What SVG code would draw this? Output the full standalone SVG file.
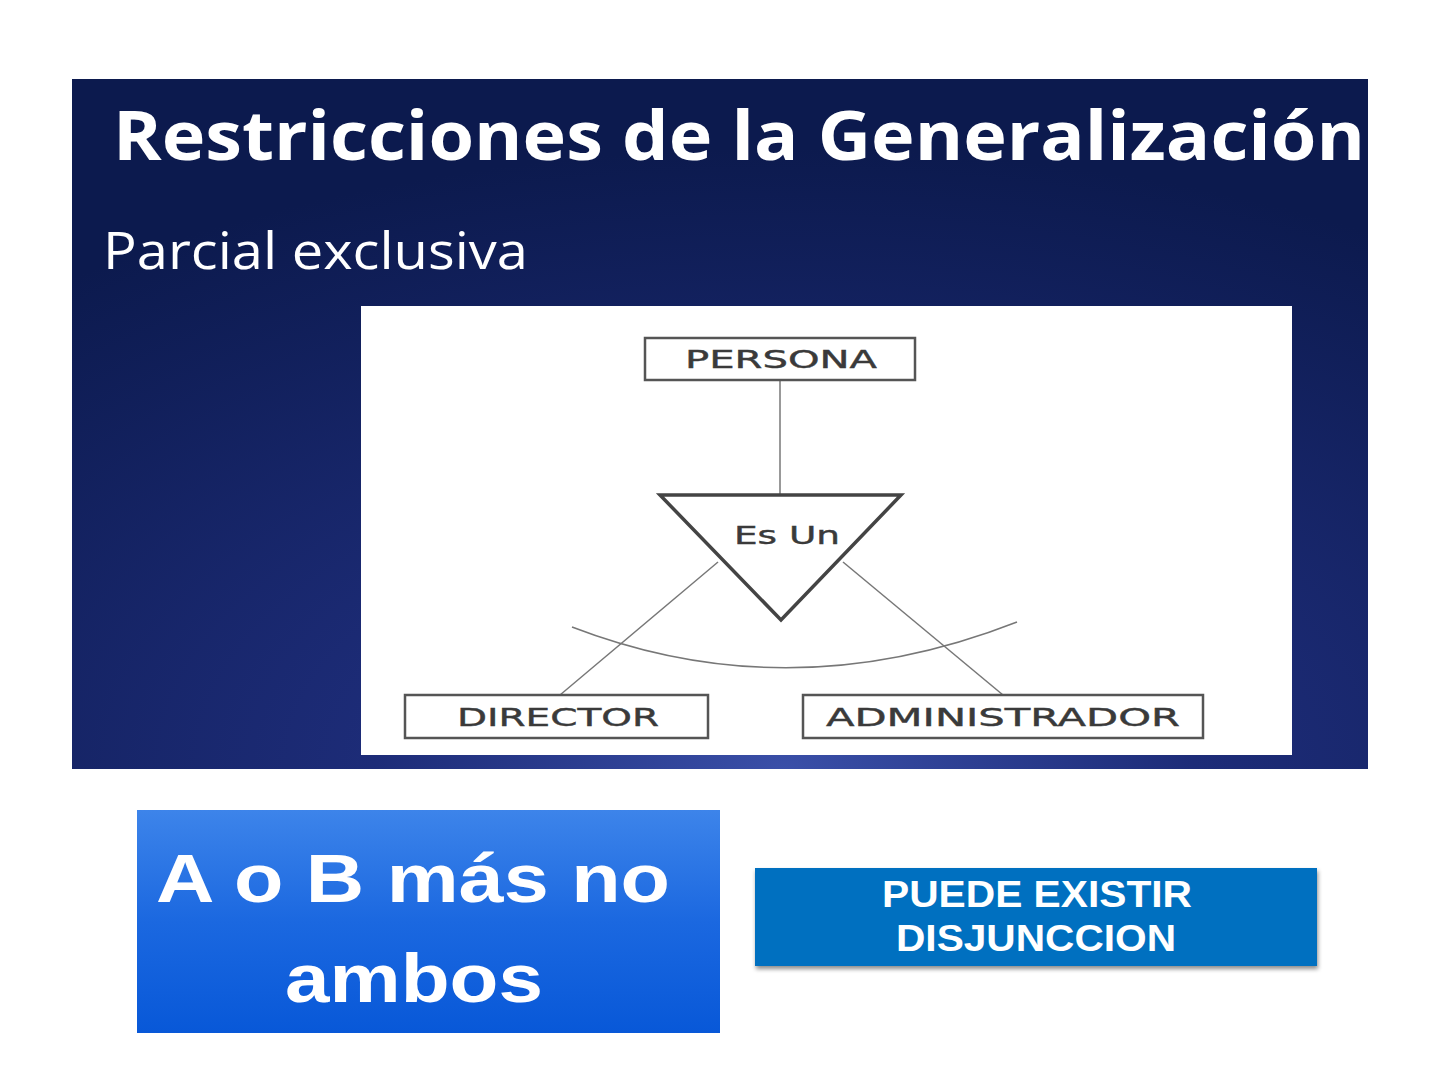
<svg xmlns="http://www.w3.org/2000/svg" width="1440" height="1080" viewBox="0 0 1440 1080">
<defs>
<radialGradient id="bg" cx="0.55" cy="1.0" r="0.9">
<stop offset="0" stop-color="#3a4fa8"/>
<stop offset="0.35" stop-color="#1d2c78"/>
<stop offset="1" stop-color="#0c1a4e"/>
</radialGradient>
<linearGradient id="blue1" x1="0" y1="0" x2="0" y2="1">
<stop offset="0" stop-color="#3d84ea"/>
<stop offset="0.5" stop-color="#1b68e0"/>
<stop offset="1" stop-color="#0858d8"/>
</linearGradient>
<filter id="sh" x="-5%" y="-10%" width="110%" height="130%">
<feDropShadow dx="1" dy="3" stdDeviation="2" flood-color="#000" flood-opacity="0.45"/>
</filter>
<style>
.box{fill:#fff;stroke:#555;stroke-width:2.5}
.lbl{font-family:"DejaVu Sans",Lato,sans-serif;font-size:24px;fill:#3a3a3a;stroke:#3a3a3a;stroke-width:0.4;text-anchor:middle}
.conn{stroke:#777;stroke-width:1.5;fill:none}
</style>
</defs>
<rect width="1440" height="1080" fill="#fff"/>
<g id="slide">
<rect x="72" y="79" width="1296" height="690" fill="url(#bg)"/>
<text x="113" y="160" font-family="'Open Sans',sans-serif" font-weight="bold" font-size="68" fill="#fff" textLength="1252" lengthAdjust="spacingAndGlyphs">Restricciones de la Generalización</text>
<text x="103" y="269" font-family="'Open Sans',sans-serif" font-size="52" fill="#fff" textLength="425" lengthAdjust="spacingAndGlyphs">Parcial exclusiva</text>
<rect x="361" y="306" width="931" height="449" fill="#fff"/>
</g>
<g id="connectors">
<line class="conn" x1="780" y1="380" x2="780" y2="495"/>
<line class="conn" x1="718" y1="562" x2="560" y2="695"/>
<line class="conn" x1="843" y1="562" x2="1003" y2="695"/>
<path class="conn" d="M572,627 Q790,711 1017,622"/>
</g>
<g id="persona">
<rect class="box" x="645" y="338" width="270" height="42"/>
<text class="lbl" x="781" y="368" textLength="192" lengthAdjust="spacingAndGlyphs">PERSONA</text>
</g>
<g id="esun">
<polygon points="660,495 901,495 781,620" fill="#fff" stroke="#444" stroke-width="3.5" stroke-linejoin="miter"/>
<text class="lbl" x="787" y="544" textLength="106" lengthAdjust="spacingAndGlyphs">Es Un</text>
</g>
<g id="director">
<rect class="box" x="405" y="695" width="303" height="43"/>
<text class="lbl" x="558" y="726" textLength="202" lengthAdjust="spacingAndGlyphs">DIRECTOR</text>
</g>
<g id="administrador">
<rect class="box" x="803" y="695" width="400" height="43"/>
<text class="lbl" x="1003" y="726" textLength="354" lengthAdjust="spacingAndGlyphs">ADMINISTRADOR</text>
</g>
<g id="ambos">
<rect x="137" y="810" width="583" height="223" fill="url(#blue1)"/>
<text x="413" y="902" font-family="'Liberation Sans',Arial,sans-serif" font-weight="bold" font-size="68" fill="#fff" text-anchor="middle" textLength="514" lengthAdjust="spacingAndGlyphs">A o B más no</text>
<text x="414" y="1002" font-family="'Liberation Sans',Arial,sans-serif" font-weight="bold" font-size="68" fill="#fff" text-anchor="middle" textLength="258" lengthAdjust="spacingAndGlyphs">ambos</text>
</g>
<g id="disjuncion">
<rect x="755" y="868" width="562" height="98" fill="#0070c0" filter="url(#sh)"/>
<text x="1037" y="907" font-family="'Liberation Sans',Arial,sans-serif" font-weight="bold" font-size="37" fill="#fff" text-anchor="middle" textLength="310" lengthAdjust="spacingAndGlyphs">PUEDE EXISTIR</text>
<text x="1036" y="951" font-family="'Liberation Sans',Arial,sans-serif" font-weight="bold" font-size="37" fill="#fff" text-anchor="middle" textLength="280" lengthAdjust="spacingAndGlyphs">DISJUNCCION</text>
</g>
</svg>
